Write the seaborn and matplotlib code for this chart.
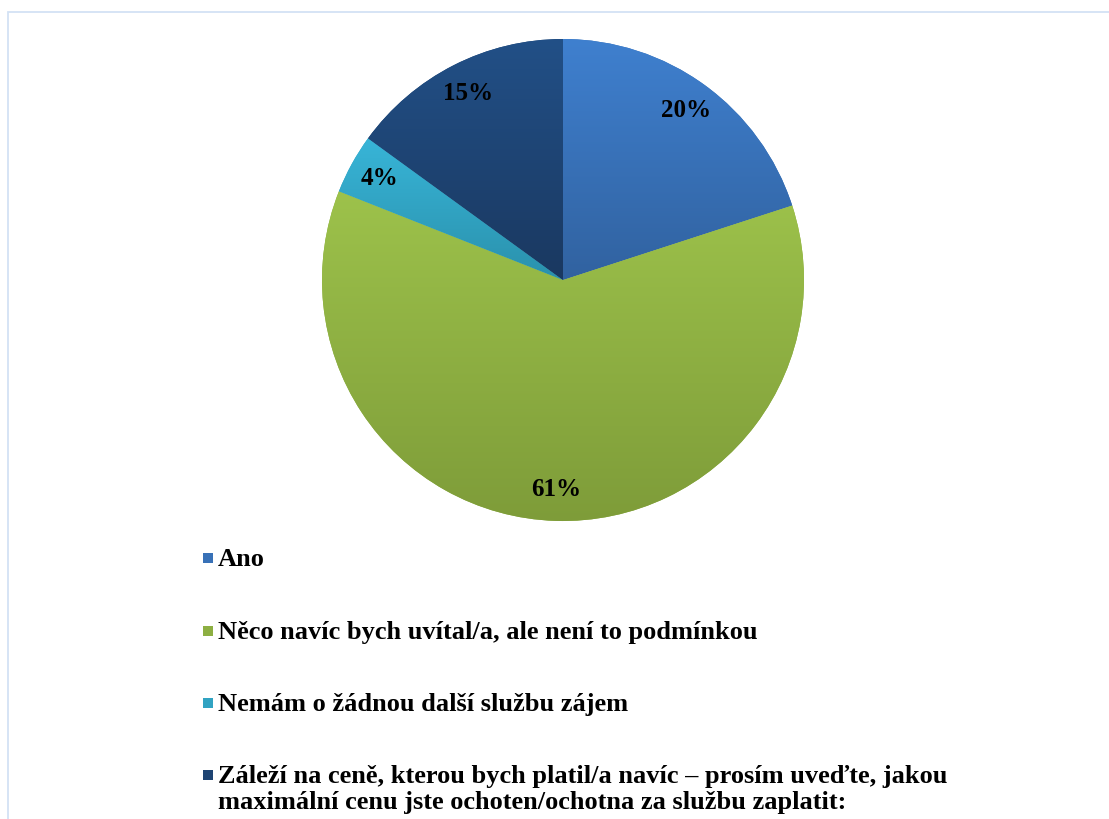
import numpy as np
import matplotlib
matplotlib.use("Agg")
import matplotlib.pyplot as plt
import matplotlib.colors as mcolors
from matplotlib.patches import Rectangle
import seaborn as sns

# Survey answers and their shares (percent)
categories = [
    "Ano",
    "Něco navíc bych uvítal/a, ale není to podmínkou",
    "Nemám o žádnou další službu zájem",
    "Záleží na ceně, kterou bych platil/a navíc – prosím uveďte, jakou\n"
    "maximální cenu jste ochoten/ochotna za službu zaplatit:",
]
shares = [20, 61, 4, 15]

# Slice fills: lighter tone at the top, darker at the bottom
top_colors = ["#3F80CF", "#9DC24B", "#38B5D8", "#225087"]
bottom_colors = ["#3162A0", "#7E9C39", "#2A91AC", "#1A3860"]
base_colors = [sns.blend_palette([t, b], 3)[1] for t, b in zip(top_colors, bottom_colors)]

sns.set_theme(style="white")
plt.rcParams["font.family"] = ["Liberation Serif", "DejaVu Serif"]

W, H = 1109, 819
fig = plt.figure(figsize=(W / 100, H / 100), dpi=100)
fig.patch.set_facecolor("white")

# Light outer frame
fig.add_artist(Rectangle((8 / W, -0.05), 1.2, 1 - 12 / H + 0.05,
                         transform=fig.transFigure, fill=False,
                         edgecolor="#D3E2F4", linewidth=1.3))

cx, cy, r = 563, 280, 241
ax = fig.add_axes([(cx - r) / W, 1 - (cy + r) / H, 2 * r / W, 2 * r / H])
wedges, _, autotexts = ax.pie(
    shares, colors=base_colors, startangle=90, counterclock=False,
    autopct="%.0f%%", pctdistance=0.87,
    wedgeprops=dict(linewidth=0),
    textprops=dict(fontsize=18, fontweight="bold", color="black"),
)
ax.axis("off")

# Vertical gradient inside every slice
for w, c_top, c_bot in zip(wedges, top_colors, bottom_colors):
    verts = w.get_path().vertices
    x0, x1 = verts[:, 0].min(), verts[:, 0].max()
    y0, y1 = verts[:, 1].min(), verts[:, 1].max()
    cmap = mcolors.LinearSegmentedColormap.from_list("g", [c_bot, c_top])
    grad = np.linspace(0, 1, 256).reshape(-1, 1)
    im = ax.imshow(grad, cmap=cmap, origin="lower", aspect="auto",
                   extent=(x0, x1, y0, y1), zorder=w.get_zorder() + 0.1,
                   interpolation="bicubic")
    im.set_clip_path(w)
for t in autotexts:
    t.set_zorder(5)
ax.set_xlim(-1, 1)
ax.set_ylim(-1, 1)
ax.set_aspect("equal")

# Legend below the pie
rows_y = [558, 631, 703, 775]
line_gap = 25
for label, color, y in zip(categories, base_colors, rows_y):
    fig.add_artist(Rectangle((203 / W, 1 - (y + 5) / H), 10 / W, 10 / H,
                             transform=fig.transFigure, facecolor=color,
                             edgecolor="none"))
    for k, line in enumerate(label.split("\n")):
        fig.text(218 / W, 1 - (y + 8.5 + k * line_gap) / H, line,
                 fontsize=19, fontweight="bold", va="baseline", ha="left",
                 color="black")

fig.savefig("out.png", dpi=100)
